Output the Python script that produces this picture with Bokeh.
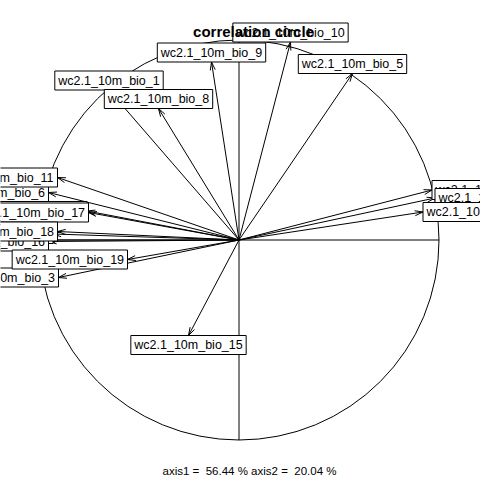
import math
from bokeh.plotting import figure
from bokeh.core.properties import value
from bokeh.embed import file_html
from bokeh.resources import INLINE

# ---- data (correlations of variables with axes 1 and 2) ----
variables = ["wc2.1_10m_bio_1", "wc2.1_10m_bio_2", "wc2.1_10m_bio_3", "wc2.1_10m_bio_4",
             "wc2.1_10m_bio_5", "wc2.1_10m_bio_6", "wc2.1_10m_bio_7", "wc2.1_10m_bio_8",
             "wc2.1_10m_bio_9", "wc2.1_10m_bio_10", "wc2.1_10m_bio_11", "wc2.1_10m_bio_12",
             "wc2.1_10m_bio_13", "wc2.1_10m_bio_14", "wc2.1_10m_bio_15", "wc2.1_10m_bio_16",
             "wc2.1_10m_bio_17", "wc2.1_10m_bio_18", "wc2.1_10m_bio_19"]
axis1 = [-0.65, 0.965, -0.9025, 0.98, 0.5675, -0.9525, 0.92, -0.4025,
         -0.1375, 0.2575, -0.9075, -0.93, -0.96, -0.76, -0.2525, -0.9525,
         -0.7525, -0.9075, -0.5575]
axis2 = [0.75, 0.25, -0.1875, 0.21, 0.8325, 0.2375, 0.14, 0.6575,
         0.89, 0.99, 0.3125, 0.03, 0.0, 0.145, -0.4775, -0.0075,
         0.1375, 0.0425, -0.0975]
title_text = "correlation circle"
inertia = [56.44, 20.04]
sub_text = "axis1 =\u00a0 %.2f %% axis2 =\u00a0 %.2f %%" % (inertia[0], inertia[1])

# ---- layout ----
W, H = 480, 480
PX = 200.0            # pixels per unit of correlation
cx, cy = 238.5, 239.5  # pixel position of the origin
FONT = "Liberation Sans"
LAB_FS = 12.5

p = figure(width=W, height=H, x_range=(-cx / PX, (W - cx) / PX),
           y_range=(-(H - cy) / PX, cy / PX), min_border=0,
           toolbar_location=None, output_backend="svg")
p.axis.visible = False
p.grid.visible = False
p.outline_line_color = None
p.background_fill_color = "white"
p.border_fill_color = "white"

# circle and axes
p.circle(x=[0], y=[0], radius=1, fill_color=None, line_color="black", line_width=1)
p.segment(x0=[-1, 0], y0=[0, -1], x1=[1, 0], y1=[0, 1], line_color="black", line_width=1)

# arrows
p.segment(x0=[0] * len(axis1), y0=[0] * len(axis1), x1=axis1, y1=axis2,
          line_color="black", line_width=1)
L = 8.5 / PX
ang = math.radians(17)
bx0, by0, bx1, by1 = [], [], [], []
for x, y in zip(axis1, axis2):
    a = math.atan2(y, x)
    for s in (-1, 1):
        bx0.append(x)
        by0.append(y)
        bx1.append(x - L * math.cos(a + s * ang))
        by1.append(y - L * math.sin(a + s * ang))
p.segment(x0=bx0, y0=by0, x1=bx1, y1=by1, line_color="black", line_width=1)

# labels in boxes (ade4 scatterutil.eti.circ rule)
cw = {"w": 722, "c": 500, ".": 278, "_": 556, "m": 833, "b": 556, "i": 222,
      "o": 556, " ": 278}
def text_w(s):
    return sum(cw.get(ch, 556) for ch in s) * LAB_FS / 1000.0

yh = 9.5 / PX
for name, x, y in zip(variables, axis1, axis2):
    xh = text_w(" " + name + " ") / PX
    if x > y and x > -y:
        x1, y1 = x + xh / 2, y
    elif x > y and x <= -y:
        x1, y1 = x, y - yh
    elif x <= y and x <= -y:
        x1, y1 = x - xh / 2, y
    else:
        x1, y1 = x, y + yh
    p.rect(x=[x1], y=[y1], width=xh, height=2 * yh, fill_color="white",
           line_color="black", line_width=1)
    p.text(x=[x1], y=[y1], text=[name], text_align="center", text_baseline="middle",
           text_font=value(FONT), text_font_size="%.1fpx" % LAB_FS, text_color="black")

# title and subtitle
p.text(x=[(253 - cx) / PX], y=[(cy - 31) / PX], text=[title_text], text_align="center",
       text_baseline="middle", text_font=value(FONT), text_font_size="15px",
       text_font_style="bold", text_color="black")
p.text(x=[(249 - cx) / PX], y=[(cy - 470.5) / PX], text=[sub_text], text_align="center",
       text_baseline="middle", text_font=value(FONT), text_font_size="11.5px",
       text_color="black")

open("out.html", "w").write(file_html(p, INLINE))
